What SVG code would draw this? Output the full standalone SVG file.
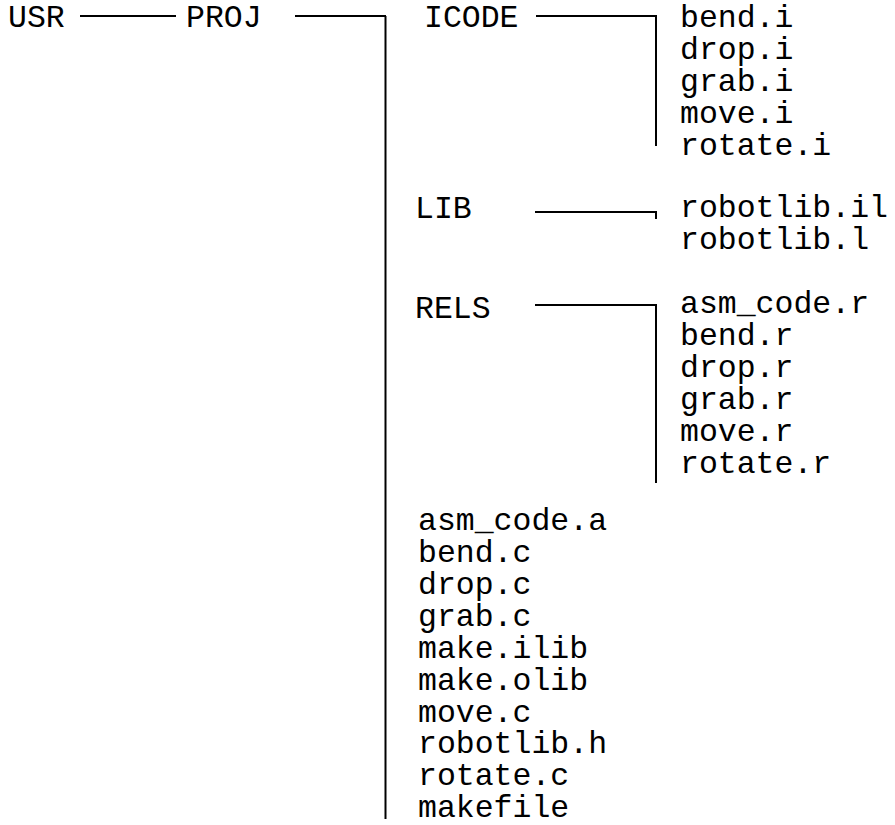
<svg xmlns="http://www.w3.org/2000/svg" width="895" height="825" viewBox="0 0 895 825">
  <style>
    text { font-family: "Liberation Mono", "Courier New", monospace; font-size: 31.5px; fill: #000; }
    .link { fill: none; stroke: #000; stroke-width: 2; }
  </style>
  <rect width="895" height="825" fill="#fff"/>

  <!-- connectors -->
  <g id="connectors">
    <path class="link" d="M80 16 H176"/>
    <path class="link" d="M295 16 H386 M385.5 16 V819"/>
    <path class="link" d="M536 16 H656 V146"/>
    <path class="link" d="M535 212 H656 V219"/>
    <path class="link" d="M535 305 H656 V483"/>
  </g>

  <g id="usr"><text x="8" y="27">USR</text></g>
  <g id="proj"><text x="186" y="27">PROJ</text></g>
  <g id="icode"><text x="424" y="27">ICODE</text></g>
  <g id="lib"><text x="415" y="218">LIB</text></g>
  <g id="rels"><text x="415" y="318">RELS</text></g>

  <g id="icode-files">
    <text x="680" y="27">bend.i</text>
    <text x="680" y="59">drop.i</text>
    <text x="680" y="91">grab.i</text>
    <text x="680" y="122.5">move.i</text>
    <text x="680" y="154.5">rotate.i</text>
  </g>

  <g id="lib-files">
    <text x="680" y="217">robotlib.il</text>
    <text x="680" y="249">robotlib.l</text>
  </g>

  <g id="rels-files">
    <text x="680" y="313">asm_code.r</text>
    <text x="680" y="345">bend.r</text>
    <text x="680" y="377">drop.r</text>
    <text x="680" y="408.5">grab.r</text>
    <text x="680" y="440.5">move.r</text>
    <text x="680" y="472.5">rotate.r</text>
  </g>

  <g id="proj-files">
    <text x="418" y="530">asm_code.a</text>
    <text x="418" y="562">bend.c</text>
    <text x="418" y="594">drop.c</text>
    <text x="418" y="625.5">grab.c</text>
    <text x="418" y="657.5">make.ilib</text>
    <text x="418" y="689.5">make.olib</text>
    <text x="418" y="721.5">move.c</text>
    <text x="418" y="753">robotlib.h</text>
    <text x="418" y="785">rotate.c</text>
    <text x="418" y="817">makefile</text>
  </g>
</svg>
